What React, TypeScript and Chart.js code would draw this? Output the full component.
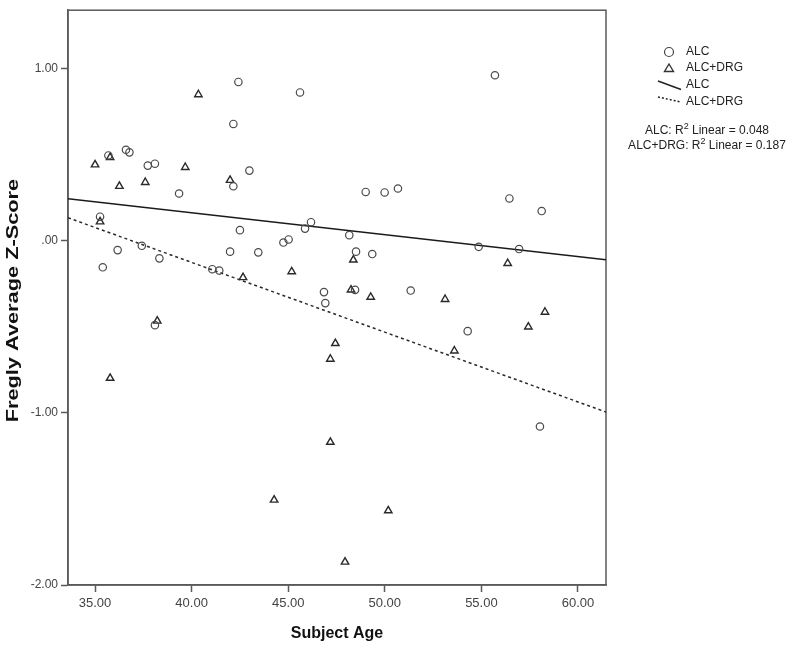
import React, { useEffect, useRef } from "react";
import { Chart, registerables } from "chart.js";

Chart.register(...registerables);

// ---- Data ----
const ALC_AGE = [
  42.42, 42.16, 35.69, 36.6, 36.78, 37.73, 38.1, 42.99, 42.16, 39.35,
  35.26, 42.5, 36.17, 37.42, 38.33, 35.4, 41.99, 43.45, 41.07, 41.43,
  38.1, 49.01, 49.99, 50.68, 46.18, 45.87, 48.16, 44.75, 45.02, 48.51,
  49.35, 46.85, 46.92, 48.46, 51.34, 45.61, 55.7, 56.45, 58.12, 54.86,
  56.95, 54.29, 58.03,
];
const ALC_SCORE = [
  0.923, 0.679, 0.496, 0.529, 0.514, 0.437, 0.448, 0.408, 0.317, 0.275,
  0.14, 0.062, -0.054, -0.029, -0.102, -0.154, -0.063, -0.067, -0.165, -0.173,
  -0.49, 0.284, 0.281, 0.304, 0.108, 0.071, 0.033, -0.01, 0.008, -0.063,
  -0.077, -0.298, -0.362, -0.285, -0.289, 0.862, 0.962, 0.246, 0.173, -0.035,
  -0.048, -0.525, -1.079,
];
const DRG_AGE = [
  40.35, 35.78, 35.0, 39.67, 36.26, 37.6, 41.99, 35.26, 42.66, 38.22,
  35.78, 48.37, 45.18, 48.25, 49.27, 47.44, 47.18, 56.36, 53.12, 58.29,
  57.43, 53.6, 47.18, 44.27, 50.18, 47.94,
];
const DRG_SCORE = [
  0.85, 0.485, 0.442, 0.427, 0.317, 0.34, 0.352, 0.111, -0.213, -0.466,
  -0.798, -0.111, -0.179, -0.285, -0.327, -0.596, -0.687, -0.131, -0.34, -0.414,
  -0.5, -0.639, -1.17, -1.506, -1.568, -1.866,
];

const X_TICKS = [35, 40, 45, 50, 55, 60];
const Y_TICKS = [-2, -1, 0, 1];
const X_RANGE = [33.6, 61.45];
const Y_RANGE = [-2, 1.34];
// fit lines: value at X_RANGE[0] and X_RANGE[1]
const ALC_FIT = [0.245, -0.11];
const DRG_FIT = [0.134, -0.995];
const R2_ALC = "0.048";
const R2_DRG = "0.187";

const SERIES_NAMES = ["ALC", "ALC+DRG"];
const X_TITLE = "Subject Age";
const Y_TITLE = "Fregly Average Z-Score";

const FONT = '"Liberation Sans", Arial, sans-serif';
const FRAME = "#5a5a5a";

const fmt = (v: number) => (v === 0 ? ".00" : v.toFixed(2));

const framePlugin = {
  id: "frame",
  beforeDatasetsDraw(chart: any) {
    const { ctx, chartArea: a } = chart;
    ctx.save();
    ctx.strokeStyle = FRAME;
    ctx.lineWidth = 1.5;
    ctx.strokeRect(a.left, a.top, a.right - a.left, a.bottom - a.top);
    ctx.restore();
  },
};

const yTitlePlugin = {
  id: "yTitle",
  afterDraw(chart: any) {
    const ctx = chart.ctx as CanvasRenderingContext2D;
    const a = chart.chartArea;
    ctx.save();
    ctx.font = `bold 16px ${FONT}`;
    ctx.fillStyle = "#111";
    ctx.textAlign = "center";
    ctx.textBaseline = "middle";
    ctx.translate(14, (a.top + a.bottom) / 2 + 3);
    ctx.rotate(-Math.PI / 2);
    ctx.scale(1.36, 1);
    ctx.fillText(Y_TITLE, 0, 0);
    ctx.restore();
  },
};

const legendPlugin = {
  id: "spssLegend",
  afterDraw(chart: any) {
    const ctx = chart.ctx as CanvasRenderingContext2D;
    ctx.save();
    ctx.font = `12px ${FONT}`;
    ctx.fillStyle = "#222";
    ctx.textBaseline = "middle";
    ctx.textAlign = "left";
    const mx = 669;
    const tx = 686;
    // circle
    ctx.beginPath();
    ctx.arc(mx, 52, 4.5, 0, Math.PI * 2);
    ctx.strokeStyle = "#444";
    ctx.lineWidth = 1.2;
    ctx.stroke();
    ctx.fillText(SERIES_NAMES[0], tx, 52);
    // triangle
    ctx.beginPath();
    ctx.moveTo(mx, 64);
    ctx.lineTo(mx + 4.5, 71.5);
    ctx.lineTo(mx - 4.5, 71.5);
    ctx.closePath();
    ctx.strokeStyle = "#333";
    ctx.lineWidth = 1.4;
    ctx.stroke();
    ctx.fillText(SERIES_NAMES[1], tx, 68);
    // solid line
    ctx.beginPath();
    ctx.moveTo(658, 81);
    ctx.lineTo(681, 89.5);
    ctx.strokeStyle = "#222";
    ctx.lineWidth = 1.5;
    ctx.stroke();
    ctx.fillText(SERIES_NAMES[0], tx, 85);
    // dotted line
    ctx.beginPath();
    ctx.setLineDash([2, 2]);
    ctx.moveTo(658, 97);
    ctx.lineTo(681, 102);
    ctx.stroke();
    ctx.setLineDash([]);
    ctx.fillText(SERIES_NAMES[1], tx, 101.5);

    // R² lines
    const drawR2 = (name: string, val: string, cx: number, cy: number) => {
      const a = `${name}: R`;
      const b = `2`;
      const c = ` Linear = ${val}`;
      ctx.font = `12px ${FONT}`;
      const wa = ctx.measureText(a).width;
      const wc = ctx.measureText(c).width;
      ctx.font = `9px ${FONT}`;
      const wb = ctx.measureText(b).width;
      const total = wa + wb + wc;
      let x = cx - total / 2;
      ctx.font = `12px ${FONT}`;
      ctx.fillText(a, x, cy);
      x += wa;
      ctx.font = `9px ${FONT}`;
      ctx.fillText(b, x, cy - 4);
      x += wb;
      ctx.font = `12px ${FONT}`;
      ctx.fillText(c, x, cy);
    };
    drawR2(SERIES_NAMES[0], R2_ALC, 707, 131);
    drawR2(SERIES_NAMES[1], R2_DRG, 707, 146);
    ctx.restore();
  },
};

export default function App() {
  const ref = useRef<HTMLCanvasElement | null>(null);
  useEffect(() => {
    if (!ref.current) return;
    const chart = new Chart(ref.current, {
      type: "scatter",
      data: {
        datasets: [
          {
            label: SERIES_NAMES[0],
            data: ALC_AGE.map((x, i) => ({ x, y: ALC_SCORE[i] })),
            pointStyle: "circle",
            pointRadius: 3.7,
            pointBorderWidth: 1.2,
            pointBorderColor: "#4a4a4a",
            pointBackgroundColor: "rgba(255,255,255,0)",
            showLine: false,
          },
          {
            label: SERIES_NAMES[1],
            data: DRG_AGE.map((x, i) => ({ x, y: DRG_SCORE[i] })),
            pointStyle: "triangle",
            pointRadius: 4.3,
            pointBorderWidth: 1.4,
            pointBorderColor: "#2a2a2a",
            pointBackgroundColor: "rgba(255,255,255,0)",
            showLine: false,
          },
          {
            label: SERIES_NAMES[0] + " fit",
            type: "line",
            data: [
              { x: X_RANGE[0], y: ALC_FIT[0] },
              { x: X_RANGE[1], y: ALC_FIT[1] },
            ],
            borderColor: "#1a1a1a",
            borderWidth: 1.5,
            pointRadius: 0,
            fill: false,
          },
          {
            label: SERIES_NAMES[1] + " fit",
            type: "line",
            data: [
              { x: X_RANGE[0], y: DRG_FIT[0] },
              { x: X_RANGE[1], y: DRG_FIT[1] },
            ],
            borderColor: "#2a2a2a",
            borderWidth: 1.5,
            borderDash: [3, 3],
            pointRadius: 0,
            fill: false,
          },
        ],
      } as any,
      options: {
        animation: false,
        responsive: false,
        devicePixelRatio: 1,
        layout: { padding: { top: 8, right: 194, left: 0, bottom: 0 } },
        plugins: { legend: { display: false }, tooltip: { enabled: false } },
        scales: {
          x: {
            type: "linear",
            min: X_RANGE[0],
            max: X_RANGE[1],
            afterBuildTicks: (s: any) => {
              s.ticks = X_TICKS.map((v) => ({ value: v }));
            },
            afterFit: (s: any) => {
              s.height = 63;
            },
            grid: {
              drawOnChartArea: false,
              drawTicks: true,
              tickLength: 7,
              tickColor: FRAME,
              tickWidth: 1.5,
            },
            border: { display: true, color: FRAME, width: 1.5 },
            ticks: {
              callback: (v: any) => fmt(Number(v)),
              color: "#444",
              font: { family: FONT, size: 13 },
              padding: 4,
              maxRotation: 0,
            },
            title: {
              display: true,
              text: X_TITLE,
              color: "#111",
              font: { family: FONT, size: 16, weight: "bold" },
              padding: { top: 0, bottom: 5 },
            },
          },
          y: {
            type: "linear",
            min: Y_RANGE[0],
            max: Y_RANGE[1],
            afterBuildTicks: (s: any) => {
              s.ticks = Y_TICKS.map((v) => ({ value: v }));
            },
            afterFit: (s: any) => {
              s.width = 68;
            },
            grid: {
              drawOnChartArea: false,
              drawTicks: true,
              tickLength: 7,
              tickColor: FRAME,
              tickWidth: 1.5,
            },
            border: { display: true, color: FRAME, width: 1.5 },
            ticks: {
              callback: (v: any) => fmt(Number(v)),
              color: "#444",
              font: { family: FONT, size: 12 },
              padding: 3,
            },
            title: { display: false },
          },
        },
      } as any,
      plugins: [framePlugin, yTitlePlugin, legendPlugin],
    });
    return () => chart.destroy();
  }, []);

  return (
    <div style={{ position: "absolute", left: 0, top: 0, width: 800, height: 648, background: "#fff" }}>
      <canvas ref={ref} width={800} height={648} style={{ width: 800, height: 648, display: "block" }} />
    </div>
  );
}
